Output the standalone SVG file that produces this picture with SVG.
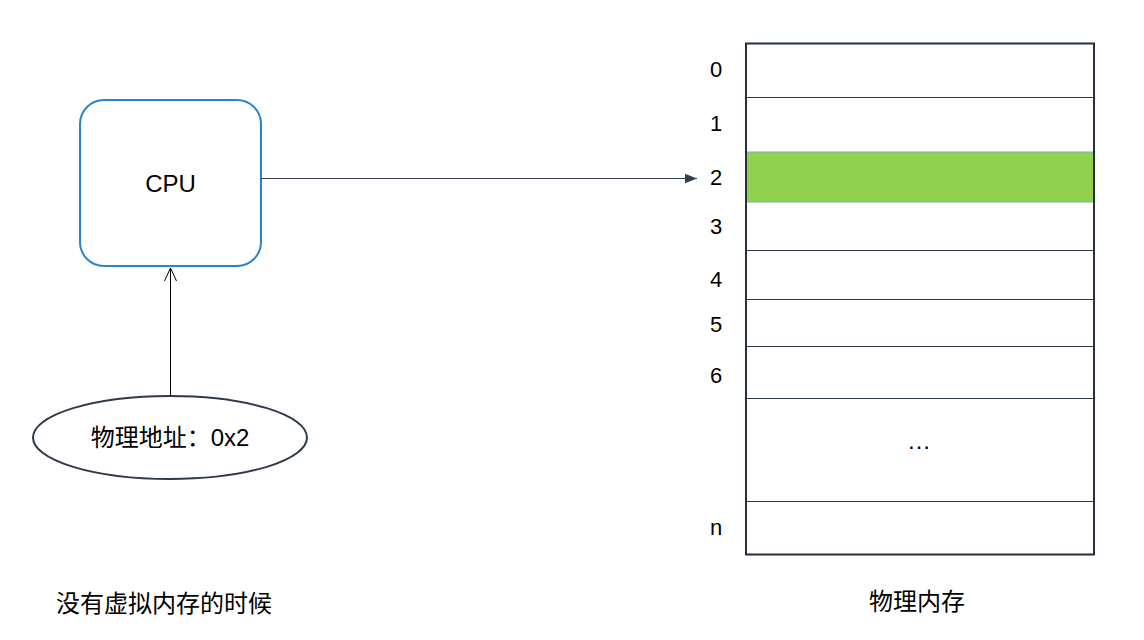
<svg xmlns="http://www.w3.org/2000/svg" width="1144" height="640" viewBox="0 0 1144 640">
<style>
.t{font-family:"Liberation Sans","Noto Sans CJK SC",Arial,sans-serif;font-size:24px;fill:#000}
.n{font-size:22px}
.row{fill:none;stroke:#2e3a48;stroke-width:1}
</style>
<defs>
<marker id="tri" viewBox="0 0 10 10" refX="10" refY="5" markerWidth="12" markerHeight="12" markerUnits="userSpaceOnUse" orient="auto">
<path d="M0,1 L10,5 L0,9 Z" fill="#333f50"/>
</marker>
</defs>
<rect width="1144" height="640" fill="#fff"/>
<g id="cpu">
<rect x="80" y="100" width="181" height="166" rx="24" fill="#fff" stroke="#2e83c7" stroke-width="2"/>
<text class="t" x="170.5" y="192" text-anchor="middle">CPU</text>
</g>
<g id="addr">
<ellipse cx="170" cy="437.5" rx="137" ry="41.5" fill="#fff" stroke="#2e3a48" stroke-width="2"/>
<text class="t" x="170" y="446" text-anchor="middle">物理地址：0x2</text>
</g>
<g id="memory">
<rect x="746" y="152" width="348" height="50" fill="#92d050" stroke="#6fb7a8" stroke-width="1"/>
<line class="row" x1="746" y1="97.5" x2="1094" y2="97.5" stroke="#000"/>
<line class="row" x1="746" y1="250.5" x2="1094" y2="250.5"/>
<line class="row" x1="746" y1="299.5" x2="1094" y2="299.5"/>
<line class="row" x1="746" y1="346.5" x2="1094" y2="346.5" stroke="#000"/>
<line class="row" x1="746" y1="398.5" x2="1094" y2="398.5"/>
<line class="row" x1="746" y1="501.5" x2="1094" y2="501.5"/>
<rect x="746" y="43.5" width="348" height="511" fill="none" stroke="#232f3e" stroke-width="2"/>
<text class="t n" x="716" y="77" text-anchor="middle">0</text>
<text class="t n" x="716" y="131" text-anchor="middle">1</text>
<text class="t n" x="716" y="185" text-anchor="middle">2</text>
<text class="t n" x="716" y="234" text-anchor="middle">3</text>
<text class="t n" x="716" y="287" text-anchor="middle">4</text>
<text class="t n" x="716" y="332" text-anchor="middle">5</text>
<text class="t n" x="716" y="383" text-anchor="middle">6</text>
<text class="t n" x="716" y="535" text-anchor="middle">n</text>
<text class="t" x="919" y="449" text-anchor="middle">…</text>
</g>
<g id="connectors">
<line x1="261" y1="178.5" x2="697" y2="178.5" stroke="#333f50" stroke-width="1" marker-end="url(#tri)"/>
<line x1="170.5" y1="396" x2="170.5" y2="268" stroke="#000" stroke-width="1"/>
<path d="M164.5,281 L170.5,268 L176.5,281" fill="none" stroke="#000" stroke-width="1"/>
</g>
<g id="labels">
<text class="t" x="56" y="612">没有虚拟内存的时候</text>
<text class="t" x="917" y="610" text-anchor="middle">物理内存</text>
</g>
</svg>
